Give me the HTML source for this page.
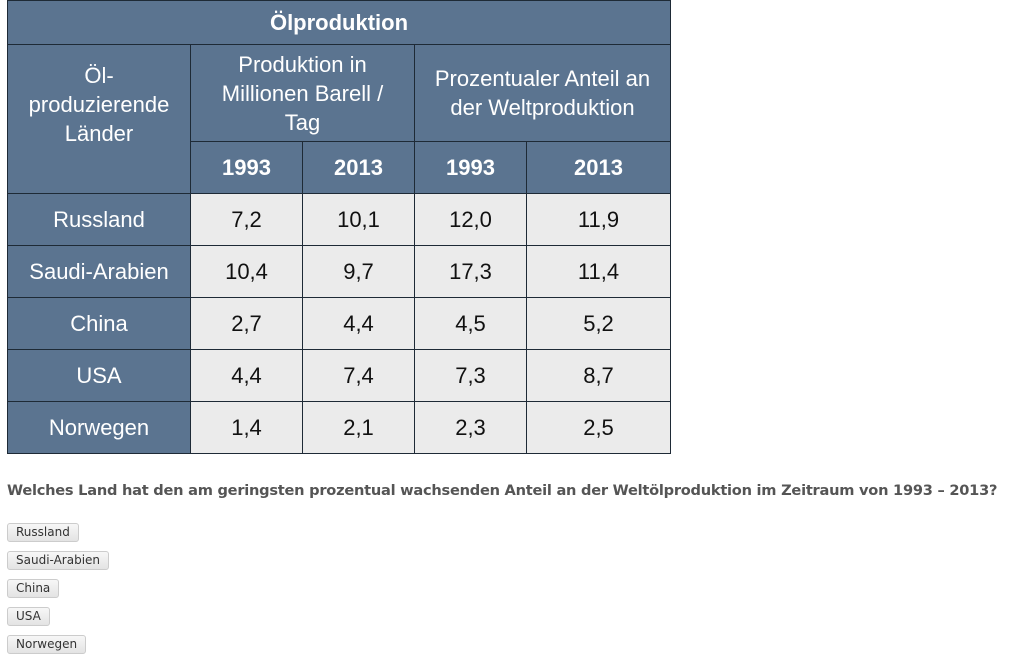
<!DOCTYPE html>
<html><head><meta charset="utf-8"><style>
body{margin:0;width:1030px;height:659px;background:#fff;position:relative;overflow:hidden;font-family:"Liberation Sans",sans-serif}
.c{position:absolute;box-sizing:border-box;border:1px solid #1e2a36;display:flex;align-items:center;justify-content:center;text-align:center}
.h{background:#5b7490;color:#fff}
.d{background:#ebebeb;color:#111;font-size:22px}
.yr{font-weight:bold;font-size:22px}
.btn{position:absolute;left:7px;height:19px;box-sizing:border-box;border:1px solid #ccc;border-radius:3px;background:linear-gradient(#f7f7f7,#e3e3e3);font-size:12px;color:#333;padding:0 8px;line-height:17px;font-family:"DejaVu Sans","Liberation Sans",sans-serif}
</style></head><body>
<div>
<div class="c h" style="left:7px;top:0;width:664px;height:45px;font-weight:bold;font-size:22px">Ölproduktion</div>
<div class="c h" style="left:7px;top:44px;width:184px;height:150px;font-size:22px;line-height:29px;align-items:flex-start;padding-top:16px">Öl-<br>produzierende<br>Länder</div>
<div class="c h" style="left:190px;top:44px;width:225px;height:98px;font-size:22px;line-height:29px">Produktion in<br>Millionen Barell /<br>Tag</div>
<div class="c h" style="left:414px;top:44px;width:257px;height:98px;font-size:22px;line-height:29px">Prozentualer Anteil an<br>der Weltproduktion</div>
<div class="c h yr" style="left:190px;top:141px;width:113px;height:53px">1993</div>
<div class="c h yr" style="left:302px;top:141px;width:113px;height:53px">2013</div>
<div class="c h yr" style="left:414px;top:141px;width:113px;height:53px">1993</div>
<div class="c h yr" style="left:526px;top:141px;width:145px;height:53px">2013</div>
</div>
<div id="rows"></div>
<div style="position:absolute;left:7px;top:482px;font-family:'DejaVu Sans','Liberation Sans',sans-serif;font-weight:bold;font-size:14.6px;color:#555;white-space:nowrap;letter-spacing:-0.25px">Welches Land hat den am geringsten prozentual wachsenden Anteil an der Weltölproduktion im Zeitraum von 1993 – 2013?</div>
<div class="btn" style="top:523px">Russland</div>
<div class="btn" style="top:551px">Saudi-Arabien</div>
<div class="btn" style="top:579px">China</div>
<div class="btn" style="top:607px">USA</div>
<div class="btn" style="top:635px">Norwegen</div>
<script>
const countries=["Russland","Saudi-Arabien","China","USA","Norwegen"];
const prod1993=["7,2","10,4","2,7","4,4","1,4"];
const prod2013=["10,1","9,7","4,4","7,4","2,1"];
const share1993=["12,0","17,3","4,5","7,3","2,3"];
const share2013=["11,9","11,4","5,2","8,7","2,5"];
const cols=[[7,184],[190,113],[302,113],[414,113],[526,145]];
const host=document.getElementById('rows');
countries.forEach((c,i)=>{
  const vals=[c,prod1993[i],prod2013[i],share1993[i],share2013[i]];
  const top=193+i*52;
  vals.forEach((v,j)=>{
    const el=document.createElement('div');
    el.className='c '+(j===0?'h':'d');
    el.style.cssText=`left:${cols[j][0]}px;top:${top}px;width:${cols[j][1]}px;height:53px;font-size:22px`;
    el.textContent=v;
    
    
    host.appendChild(el);
  });
});
</script>
</body></html>
